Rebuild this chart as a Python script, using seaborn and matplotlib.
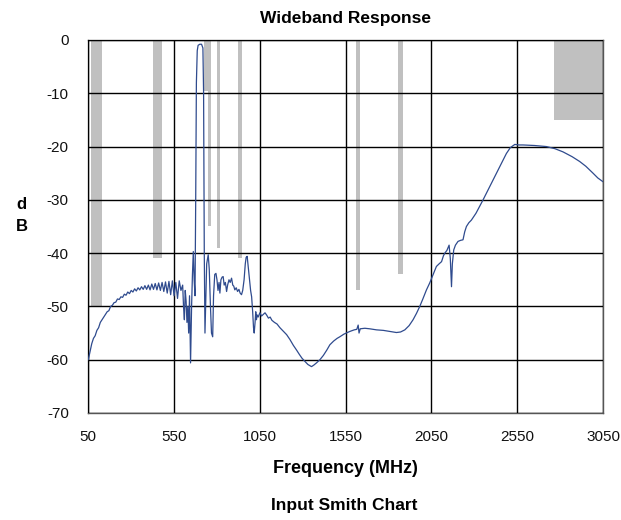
import matplotlib
matplotlib.use("Agg")
import matplotlib.pyplot as plt
import seaborn as sns
import pandas as pd
from matplotlib import font_manager

# ---- data ----
freq_mhz = [50, 60, 70, 80, 90, 100, 110, 120, 130, 140, 150, 160, 170, 180, 190, 200,
            210, 220, 230, 240, 250, 260, 270, 280, 290, 300, 310, 320, 330, 340, 350,
            360, 370, 380, 390, 400, 410, 420, 430, 440, 450, 460, 470, 480, 490, 500,
            510, 520, 530, 540, 550, 560, 570, 580, 590, 600, 605, 610, 615, 620, 625,
            630, 635, 640, 646, 652, 657, 662, 667, 672, 676, 680, 685, 690, 700, 710,
            718, 722, 726, 730, 734, 740, 749, 755, 762, 768, 775, 780, 787, 794, 800,
            806, 812, 817, 823, 830, 836, 842, 849, 856, 862, 870, 877, 885, 892, 898,
            904, 912, 920, 928, 935, 943, 950, 958, 965, 970, 976, 982, 990, 996, 1002,
            1008, 1013, 1017, 1022, 1026, 1030, 1034, 1040, 1050, 1060, 1070, 1080, 1089,
            1100, 1110, 1120, 1135, 1150, 1167, 1185, 1206, 1225, 1245, 1264, 1280, 1295,
            1312, 1330, 1351, 1365, 1380, 1400, 1420, 1440, 1458, 1480, 1500, 1516, 1540,
            1560, 1574, 1600, 1615, 1623, 1628, 1635, 1662, 1690, 1730, 1770, 1807, 1846,
            1870, 1895, 1920, 1943, 1963, 1982, 2000, 2021, 2040, 2060, 2079, 2095, 2109,
            2120, 2128, 2140, 2153, 2160, 2167, 2172, 2180, 2190, 2205, 2220, 2234, 2244,
            2254, 2268, 2283, 2310, 2351, 2390, 2429, 2460, 2487, 2510, 2536, 2560, 2584,
            2650, 2720, 2770, 2817, 2870, 2914, 2950, 2992, 3020, 3050]
response_db = [-60, -58.5, -57, -56, -55.5, -54.5, -54, -53, -52.5, -52, -51.5, -51, -50.8,
               -50, -49.8, -49.3, -49.2, -48.6, -48.7, -48.2, -48.3, -47.7, -47.9, -47.3,
               -47.6, -47, -47.3, -46.7, -47.1, -46.5, -46.9, -46.3, -46.8, -46.1, -46.8,
               -46, -46.9, -45.8, -46.8, -45.7, -46.9, -45.6, -47, -45.5, -47.2, -45.4,
               -47.5, -45.3, -47.8, -45.2, -48, -45.5, -48.5, -45.2, -47, -46, -50, -52.5,
               -47, -49, -53, -50, -55, -48, -60.6, -50, -44, -39.7, -45, -48, -30, -8,
               -2, -1, -0.8, -0.8, -1.5, -10, -40, -55, -50, -42, -40.3, -43, -50, -55,
               -55.7, -48, -44, -43.8, -45, -47, -45.5, -47.5, -45, -44.5, -44.4, -46,
               -45.5, -47.2, -46, -45, -45.5, -44.7, -46, -46.2, -46.9, -46.5, -47.2,
               -46.8, -47.5, -47.8, -47, -45, -42, -40.8, -40.6, -42.5, -45, -47, -48.2,
               -51, -54, -55, -53, -51, -52.5, -51.6, -52, -51.2, -51.8, -51.5, -51.2,
               -51.6, -52.2, -52, -52.6, -53, -53.3, -54, -54.6, -55.3, -56.2, -57.3,
               -58.2, -59, -59.7, -60.3, -60.9, -61.3, -61, -60.6, -60, -59.2, -58.2,
               -57.2, -56.5, -56, -55.7, -55.2, -54.9, -54.7, -54.4, -54.3, -53.5, -55,
               -54.2, -54.1, -54.2, -54.4, -54.5, -54.7, -54.9, -54.8, -54.4, -53.6,
               -52.5, -51.3, -50, -48.6, -46.9, -45.6, -44, -42.5, -42, -41.6, -40.5, -40,
               -39.5, -38.5, -41, -46.3, -42, -39.4, -38.5, -37.8, -37.6, -37.5, -36, -35,
               -34.3, -33.8, -32.5, -30, -27.5, -25, -23, -21.3, -20.2, -19.6, -19.7,
               -19.7, -19.8, -20, -20.4, -21, -21.9, -22.8, -23.7, -25, -25.9, -26.6]

# spec mask regions (start MHz, stop MHz, floor dB) drawn down from 0 dB
mask_start = [67, 430, 725, 745, 800, 925, 1608, 1857, 2765]
mask_stop = [127, 480, 765, 765, 820, 945, 1633, 1885, 3050]
mask_floor = [-50, -41, -9.5, -35, -39, -41, -47, -44, -15]

x_ticks = [50, 550, 1050, 1550, 2050, 2550, 3050]
y_ticks = [0, -10, -20, -30, -40, -50, -60, -70]

# ---- plotting ----
sns.set_theme(style="white")
names = {f.name for f in font_manager.fontManager.ttflist}
fam = "Liberation Sans Narrow" if "Liberation Sans Narrow" in names else "Liberation Sans"
plt.rcParams["font.family"] = [fam, "DejaVu Sans"]
plt.rcParams["text.color"] = "black"
plt.rcParams["axes.labelcolor"] = "black"

fig = plt.figure(figsize=(6.21, 5.2), dpi=100)
ax = fig.add_axes([0.1422, 0.2058, 0.9710 - 0.1422, 0.9231 - 0.2058])

widths = [b - a for a, b in zip(mask_start, mask_stop)]
ax.bar(mask_start, mask_floor, width=widths, bottom=0, align="edge",
       color="#c0c0c0", edgecolor="none", linewidth=0, zorder=1)

df = pd.DataFrame({"Frequency": freq_mhz, "dB": response_db})
sns.lineplot(data=df, x="Frequency", y="dB", ax=ax, color="#2f4b8e",
             linewidth=0.9, zorder=3, sort=False)

ax.set_xlim(50, 3050)
ax.set_ylim(-70, 0)
ax.set_xticks(x_ticks)
ax.set_yticks(y_ticks)
ax.set_xticklabels([str(v) for v in x_ticks])
ax.set_yticklabels([str(v) for v in y_ticks])
ax.grid(True, color="black", linewidth=1.0)
ax.set_axisbelow(False)
for s in ax.spines.values():
    s.set_color("#555555")
    s.set_linewidth(1.0)
ax.tick_params(axis="both", length=0, labelsize=11, colors="#111111")
ax.tick_params(axis="x", pad=12)
ax.tick_params(axis="y", pad=14)

ax.set_xlabel("Frequency (MHz)", fontsize=13, fontweight="bold", labelpad=12,
              color="black")
ax.set_ylabel("d\nB", fontsize=12, fontweight="bold", rotation=0,
              va="center", ha="center", linespacing=1.6, color="black")
ax.yaxis.set_label_coords(-0.13, 0.53)
ax.set_title("Wideband Response", fontsize=12.5, fontweight="bold", pad=12,
             color="black")
fig.text(0.554, 0.028, "Input Smith Chart", fontsize=12.5, fontweight="bold",
         ha="center", va="center", color="black")

fig.savefig("out.png", dpi=100)
